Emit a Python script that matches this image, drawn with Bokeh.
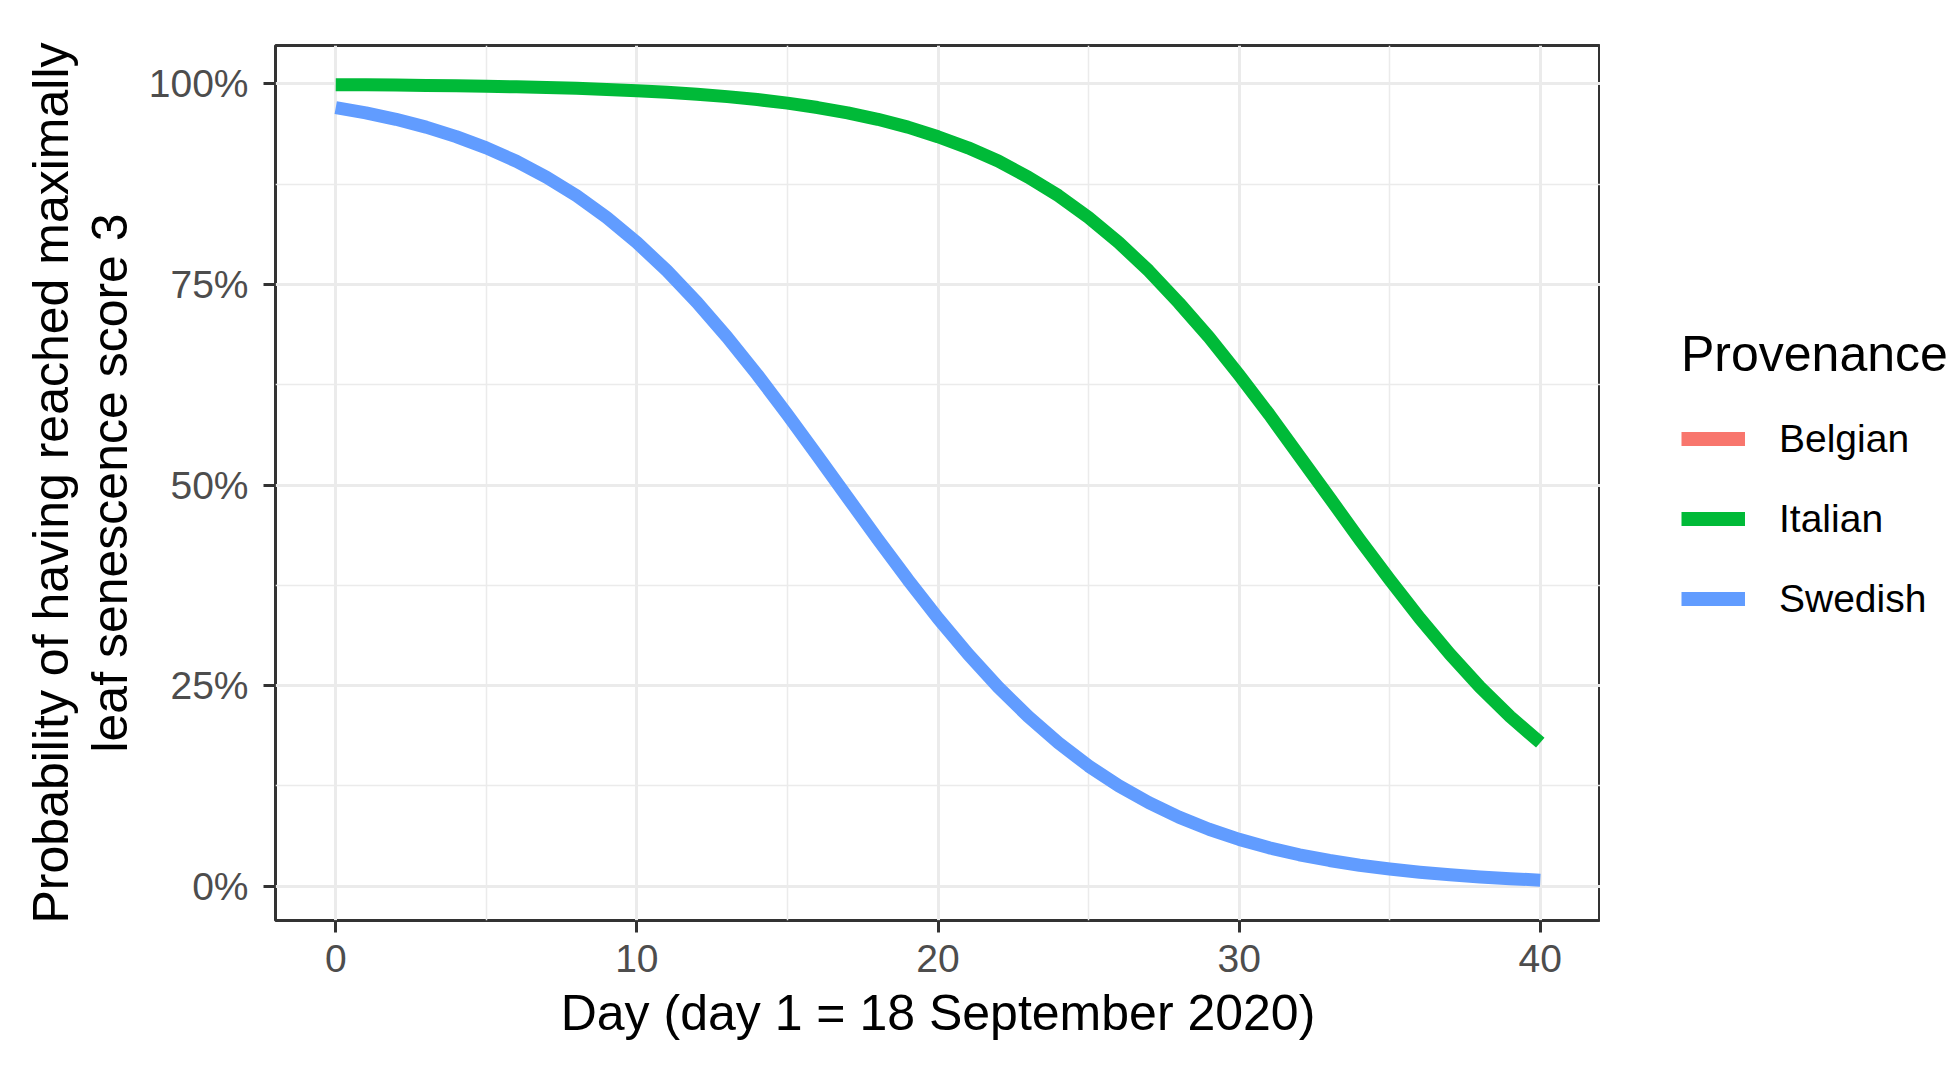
from bokeh.plotting import figure
from bokeh.layouts import row
from bokeh.models import (ColumnDataSource, FixedTicker, NumeralTickFormatter, Range1d,
                          Legend, LegendItem)
from bokeh.embed import file_html
from bokeh.resources import INLINE

# ---- data ----
days = list(range(0, 41))
italian = [0.9989, 0.9987, 0.9984, 0.9980, 0.9975, 0.9969, 0.9962, 0.9954, 0.9943, 0.9930,
           0.9913, 0.9894, 0.9870, 0.9840, 0.9803, 0.9759, 0.9704, 0.9638, 0.9557, 0.9460,
           0.9340, 0.9202, 0.9038, 0.8836, 0.8606, 0.8333, 0.8022, 0.7669, 0.7270, 0.6842,
           0.6370, 0.5878, 0.5360, 0.4843, 0.4320, 0.3820, 0.3340, 0.2893, 0.2480, 0.2113,
           0.1790]
swedish = [0.9704, 0.9638, 0.9557, 0.9460, 0.9342, 0.9202, 0.9034, 0.8836, 0.8604, 0.8333,
           0.8022, 0.7669, 0.7275, 0.6842, 0.6374, 0.5878, 0.5364, 0.4843, 0.4324, 0.3820,
           0.3340, 0.2893, 0.2482, 0.2113, 0.1786, 0.1499, 0.1252, 0.1041, 0.0861, 0.0710,
           0.0584, 0.0479, 0.0392, 0.0321, 0.0262, 0.0214, 0.0174, 0.0142, 0.0115, 0.0094,
           0.0076]
# Belgian appears only in the legend: no curve is visible in the plot
belgian_days = [float("nan")]
belgian = [float("nan")]

series_names = ["Belgian", "Italian", "Swedish"]
series_colors = ["#F8766D", "#00BA38", "#619CFF"]

x_ticks = [0, 10, 20, 30, 40]
x_minor = [5, 15, 25, 35]
y_ticks = [0, 0.25, 0.5, 0.75, 1.0]
y_minor = [0.125, 0.375, 0.625, 0.875]

FONT = "Liberation Sans"
LINE_W = 13

# ---------------- main plot ----------------
p = figure(width=1600, height=1070, output_backend="svg", toolbar_location=None,
           x_range=Range1d(-2, 42), y_range=Range1d(-0.0427, 1.0477),
           min_border_left=275, min_border_right=0, min_border_top=45, min_border_bottom=150)

p.background_fill_color = "white"
p.border_fill_color = "white"
p.outline_line_color = "#333333"
p.outline_line_width = 3

src_i = ColumnDataSource(dict(x=days, y=italian))
src_s = ColumnDataSource(dict(x=days, y=swedish))

p.line("x", "y", source=src_i, line_color=series_colors[1], line_width=LINE_W,
       line_join="round", line_cap="butt")
p.line("x", "y", source=src_s, line_color=series_colors[2], line_width=LINE_W,
       line_join="round", line_cap="butt")

for ax in (p.xaxis[0], p.yaxis[0]):
    ax.axis_line_color = None
    ax.major_tick_line_color = "#333333"
    ax.major_tick_line_width = 3
    ax.major_tick_out = 12
    ax.major_tick_in = 0
    ax.minor_tick_out = 0
    ax.minor_tick_in = 0
    ax.minor_tick_line_color = None
    ax.major_label_text_font = FONT
    ax.major_label_text_font_size = "39px"
    ax.major_label_text_color = "#4D4D4D"
    ax.axis_label_text_font = FONT
    ax.axis_label_text_font_size = "50px"
    ax.axis_label_text_font_style = "normal"
    ax.axis_label_text_color = "black"

p.xaxis[0].ticker = FixedTicker(ticks=x_ticks, minor_ticks=x_minor)
p.yaxis[0].ticker = FixedTicker(ticks=y_ticks, minor_ticks=y_minor)
p.yaxis[0].formatter = NumeralTickFormatter(format="0%")
p.xaxis[0].major_label_standoff = 12
p.yaxis[0].major_label_standoff = 15
p.xaxis[0].axis_label = "Day (day 1 = 18 September 2020)"
p.yaxis[0].axis_label = "Probability of having reached maximally\nleaf senescence score 3"
p.yaxis[0].axis_label_text_line_height = 1.05
p.xaxis[0].axis_label_standoff = 10
p.yaxis[0].axis_label_standoff = 8

for g in (p.xgrid[0], p.ygrid[0]):
    g.grid_line_color = "#EBEBEB"
    g.grid_line_width = 3
    g.minor_grid_line_color = "#EBEBEB"
    g.minor_grid_line_width = 1.5

# ---------------- legend panel ----------------
lg = figure(width=359, height=1070, output_backend="svg", toolbar_location=None,
            x_range=Range1d(0, 1), y_range=Range1d(0, 1),
            x_axis_location=None, y_axis_location=None,
            min_border_left=0, min_border_right=0, min_border_top=0, min_border_bottom=0)
lg.outline_line_color = None
lg.background_fill_color = "white"
lg.border_fill_color = "white"
lg.xgrid.visible = False
lg.ygrid.visible = False

key_src = ColumnDataSource(dict(x=belgian_days, y=belgian))
keys = [lg.line("x", "y", source=key_src, line_color=c, line_width=LINE_W + 1)
        for c in series_colors]

legend = Legend(items=[LegendItem(label=n, renderers=[r]) for n, r in zip(series_names, keys)],
                location=(81, 299), title="Provenance")
legend.title_text_font = FONT
legend.title_text_font_size = "50px"
legend.title_text_font_style = "normal"
legend.title_text_color = "black"
legend.title_standoff = 33
legend.label_text_font = FONT
legend.label_text_font_size = "39px"
legend.label_text_color = "black"
legend.glyph_width = 64
legend.glyph_height = 45
legend.label_height = 45
legend.label_standoff = 34
legend.spacing = 35
legend.padding = 0
legend.margin = 0
legend.border_line_color = None
legend.background_fill_alpha = 0
lg.add_layout(legend, "center")

layout = row(p, lg)
open("out.html", "w").write(file_html(layout, INLINE))
